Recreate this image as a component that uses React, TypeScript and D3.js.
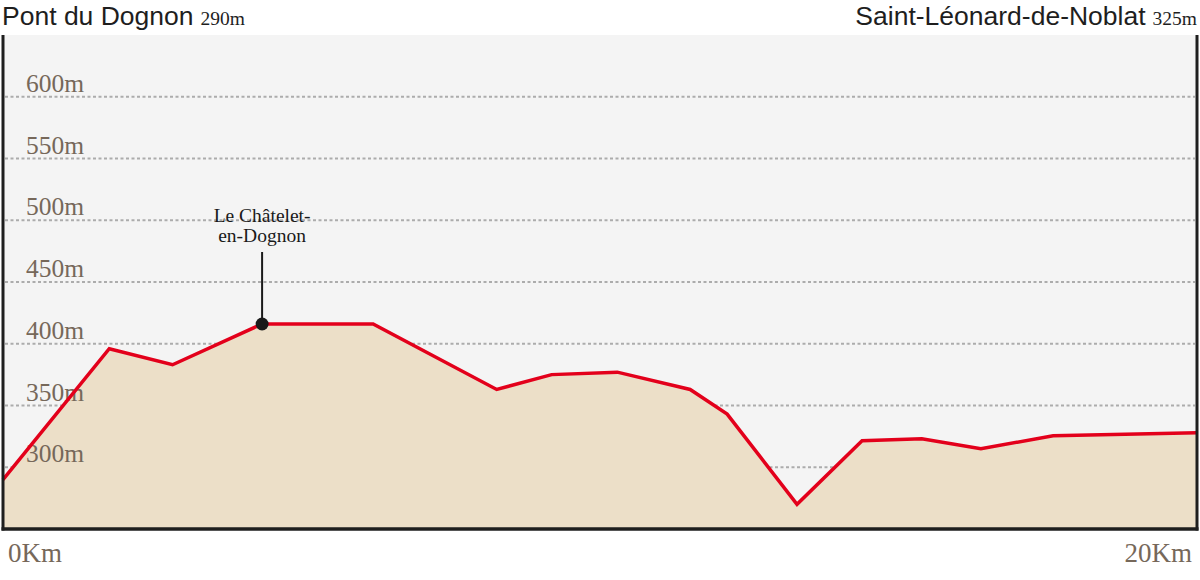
import React from "react";
import * as d3 from "d3";

const distancesKm = [0, 1.78, 2.84, 4.34, 6.2, 8.27, 9.19, 10.29, 11.51, 12.13, 13.3, 14.39, 15.39, 16.38, 17.59, 20];
const elevationsM = [290, 396, 383, 416, 416, 363, 375, 377, 363, 343, 270, 321.5, 323, 315, 325.5, 328];
const yTicks = [300, 350, 400, 450, 500, 550, 600];
const startName = "Pont du Dognon";
const startAlt = "290m";
const endName = "Saint-Léonard-de-Noblat";
const endAlt = "325m";
const poiKm = 4.34;
const poiAlt = 416;
const poiLines = ["Le Châtelet-", "en-Dognon"];

const W = 1200;
const H = 580;
const left = 3;
const right = 1197;
const top = 35;
const bottom = 529;

const serif = "'Liberation Serif', 'Times New Roman', serif";
const sans = "'Liberation Sans', Arial, sans-serif";

export default function App() {
  const x = d3.scaleLinear().domain([0, 20]).range([left, right]);
  const y = d3.scaleLinear().domain([250, 650]).range([bottom, top]);
  const pts = distancesKm.map((d, i) => [d, elevationsM[i]] as [number, number]);
  const area = d3
    .area<[number, number]>()
    .x((d) => x(d[0]))
    .y0(bottom)
    .y1((d) => y(d[1]))(pts);
  const line = d3
    .line<[number, number]>()
    .x((d) => x(d[0]))
    .y((d) => y(d[1]))(pts);

  const px = x(poiKm);
  const py = y(poiAlt);

  return (
    <svg width={W} height={H} style={{ position: "absolute", left: 0, top: 0, background: "#fff" }}>
      <rect x={left} y={top} width={right - left} height={bottom - top} fill="#f4f4f4" />
      {yTicks.map((t) => (
        <g key={t}>
          <line
            x1={left + 2}
            x2={right - 2}
            y1={y(t)}
            y2={y(t)}
            stroke="#acacac"
            strokeWidth={2.2}
            strokeDasharray="3,2.5"
          />
        </g>
      ))}
      <path d={area || ""} fill="#ecdfc8" />
      {yTicks.map((t) => (
        <text key={"l" + t} x={26} y={y(t) - 5} fontFamily={serif} fontSize={25.5} fill="#76685a">
          {t}m
        </text>
      ))}
      <path d={line || ""} fill="none" stroke="#e3001b" strokeWidth={3.5} strokeLinejoin="miter" />
      <line x1={px} x2={px} y1={252} y2={py} stroke="#1a1a1a" strokeWidth={2} />
      <circle cx={px} cy={py} r={6.5} fill="#1a1a1a" />
      {poiLines.map((s, i) => (
        <text
          key={s}
          x={px}
          y={222 + i * 20}
          textAnchor="middle"
          fontFamily={serif}
          fontSize={19.5}
          fill="#1a1a1a"
        >
          {s}
        </text>
      ))}
      <line x1={left} x2={left} y1={top} y2={bottom + 1.5} stroke="#1e1e1e" strokeWidth={3} />
      <line x1={right} x2={right} y1={top} y2={bottom + 1.5} stroke="#1e1e1e" strokeWidth={3} />
      <line x1={left - 1.5} x2={right + 1.5} y1={bottom} y2={bottom} stroke="#1e1e1e" strokeWidth={3.5} />
      <text x={2} y={25} fontFamily={sans} fontSize={26.5} fill="#1e1e1e">
        {startName}
        <tspan fontFamily={serif} fontSize={19.5} dx={7}>
          {startAlt}
        </tspan>
      </text>
      <text x={1197} y={25} textAnchor="end" fontFamily={sans} fontSize={26.5} fill="#1e1e1e">
        {endName}
        <tspan fontFamily={serif} fontSize={19.5} dx={7}>
          {endAlt}
        </tspan>
      </text>
      <text x={8} y={562} fontFamily={serif} fontSize={27} fill="#76685a">
        0Km
      </text>
      <text x={1192} y={562} textAnchor="end" fontFamily={serif} fontSize={27} fill="#76685a">
        20Km
      </text>
    </svg>
  );
}
